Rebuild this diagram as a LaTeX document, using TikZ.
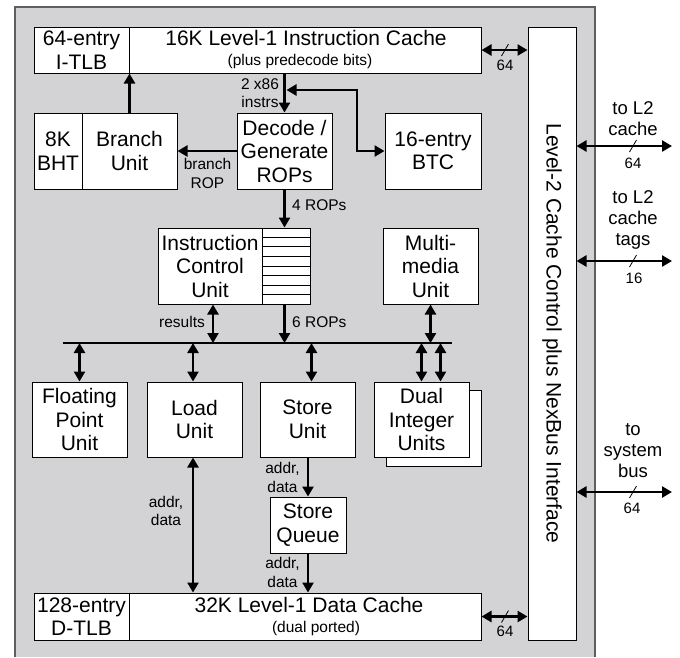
\documentclass[tikz,border=0pt]{standalone}
\usepackage{fontspec}
\setmainfont{Liberation Sans}
\usetikzlibrary{arrows.meta,calc}
\definecolor{bg}{RGB}{211,211,213}
\definecolor{edgegray}{RGB}{95,95,95}
\newcommand\mainsz{\fontsize{21}{23.5}\selectfont}
\newcommand\smsz{\fontsize{15.5}{18.5}\selectfont}
\newcommand\lblsz{\fontsize{18.5}{21}\selectfont}
\newcommand\numsz{\fontsize{15}{17}\selectfont}
\newcommand\busslash[1]{\draw[line width=0.8pt] ($(#1)+(-3.5,6)$) -- ($(#1)+(3.5,-6)$);}
\begin{document}
\begin{tikzpicture}[x=1pt,y=-1pt,
  box/.style={draw=black, line width=1pt, fill=white, inner sep=0pt, font=\mainsz, align=center},
  txt/.style={inner sep=0pt, font=\mainsz, align=center},
  lbl/.style={inner sep=0pt, font=\smsz, align=center},
  ext/.style={inner sep=0pt, font=\lblsz, align=center},
  num/.style={inner sep=0pt, font=\numsz},
  arr/.style={line width=2.6pt, -{Triangle[length=10pt,width=11pt]}},
  dbl/.style={line width=2.6pt, {Triangle[length=10pt,width=11pt]}-{Triangle[length=10pt,width=11pt]}},
  bus/.style={line width=2.6pt}
]
\useasboundingbox (0,0) rectangle (680,657);
% background chip area
\fill[bg] (15,7) rectangle (595,657);
\draw[edgegray, line width=1.6pt] (15,657) -- (15,7) -- (595,7) -- (595,657);

% top row
\node[box, minimum width=95pt, minimum height=46pt] (itlb) at (81.5,50) {64-entry\\I-TLB};
\node[box, minimum width=352pt, minimum height=46pt] (icache) at (305,50) {};
\node[txt, anchor=base] (ictitle) at (306,45) {16K Level-1 Instruction Cache};
\node[lbl, anchor=base] (icsub) at (300,65) {(plus predecode bits)};

% level-2 control
\node[box, minimum width=48pt, minimum height=613pt] (l2) at (552,333.5) {};
\node[txt, rotate=-90] (l2text) at (552,333.5) {Level-2 Cache Control plus NexBus Interface};

% second row
\node[box, minimum width=48pt, minimum height=76pt] (bht) at (58,151) {8K\\BHT};
\node[box, minimum width=95pt, minimum height=76pt] (branch) at (129.5,151) {Branch\\Unit};
\node[box, minimum width=95pt, minimum height=76pt] (decode) at (284.5,151) {Decode /\\Generate\\ROPs};
\node[box, minimum width=96pt, minimum height=76pt] (btc) at (433,151) {16-entry\\BTC};

% third row
\node[box, minimum width=104pt, minimum height=76pt] (icu) at (210,266) {Instruction\\Control\\Unit};
\node[box, minimum width=48pt, minimum height=76pt] (icuq) at (286,266) {};
\foreach \i in {1,...,7}
  \draw[line width=1pt] ($(icuq.north west)!\i/8!(icuq.south west)$) -- ($(icuq.north east)!\i/8!(icuq.south east)$);
\node[box, minimum width=95pt, minimum height=76pt] (mm) at (430.5,266) {Multi-\\media\\Unit};

% bus
\coordinate (busl) at (63,343);
\coordinate (busr) at (452,343);
\draw[bus] (busl) -- (busr);

% execution units
\node[box, minimum width=95pt, minimum height=75pt] (fp) at (79.5,419.5) {Floating\\Point\\Unit};
\node[box, minimum width=95pt, minimum height=75pt] (load) at (194.5,419.5) {Load\\Unit};
\node[box, minimum width=95pt, minimum height=75pt] (store) at (307.5,419.5) {Store\\Unit};
\node[box, minimum width=95pt, minimum height=76pt] (dualshadow) at (433.5,428) {};
\node[box, minimum width=95pt, minimum height=75pt] (dual) at (421.5,419.5) {Dual\\Integer\\Units};

% store queue
\node[box, minimum width=76pt, minimum height=56pt] (sq) at (308,525) {Store\\Queue};

% data cache row
\node[box, minimum width=95pt, minimum height=47pt] (dtlb) at (81.5,616.5) {128-entry\\D-TLB};
\node[box, minimum width=352pt, minimum height=47pt] (dcache) at (305,616.5) {};
\node[txt, anchor=base] (dctitle) at (309,612) {32K Level-1 Data Cache};
\node[lbl, anchor=base] (dcsub) at (316,632) {(dual ported)};

% connectors: front end
\draw[arr] (branch.north) -- (branch.north |- icache.south);
\draw[arr] (icache.south -| decode.north) -- (decode.north);
\node[lbl] (x86lbl) at (260,93) {2 x86\\instrs};
\coordinate (instrtap) at (286.5,90);
\coordinate (btcbend) at (357,90);
\draw[dbl] (instrtap) -- (btcbend) |- (btc.west);
\draw[arr] (decode.west) -- (branch.east);
\node[lbl] (brlbl) at (207.5,173.5) {branch\\ROP};
\draw[arr] (decode.south) -- (decode.south |- icuq.north);
\node[lbl, anchor=west] (rops4) at (292,205) {4 ROPs};

% ICU to bus
\draw[arr] (decode.south |- icuq.south) -- (decode.south |- busl);
\node[lbl, anchor=west] (rops6) at (292,322.5) {6 ROPs};
\draw[dbl] ([xshift=3pt]icu.south) -- ([xshift=3pt]icu.south |- busl);
\node[lbl] (reslbl) at (182,322) {results};
\draw[dbl] (mm.south) -- (mm.south |- busl);

% bus to units
\draw[dbl] (fp.north |- busl) -- (fp.north);
\draw[dbl] ([xshift=-1.5pt]load.north |- busl) -- ([xshift=-1.5pt]load.north);
\draw[dbl] ([xshift=4pt]store.north |- busl) -- ([xshift=4pt]store.north);
\draw[dbl] (dual.north |- busl) -- (dual.north);
\draw[dbl] ([xshift=19pt]dual.north |- busl) -- ([xshift=19pt]dual.north);

% memory paths
\draw[dbl] ([xshift=-1.5pt]load.south) -- ([xshift=-1.5pt]load.south |- dcache.north);
\node[lbl] (ldlbl) at (166,511) {addr,\\data};
\draw[arr] (store.south -| sq.north) -- (sq.north);
\node[lbl] (stlbl) at (282.5,477.5) {addr,\\data};
\draw[arr] (sq.south) -- (sq.south |- dcache.north);
\node[lbl] (sqlbl) at (282.5,572.5) {addr,\\data};

% caches to L2
\draw[dbl] (icache.east) -- (icache.east -| l2.west);
\coordinate (icslash) at (505,50);
\busslash{icslash}
\node[num] (icw) at (505,65) {64};
\draw[dbl] (dcache.east) -- (dcache.east -| l2.west);
\coordinate (dcslash) at (505,616.5);
\busslash{dcslash}
\node[num] (dcw) at (505,631) {64};

% external buses
\coordinate (extA) at (672,146);
\coordinate (extB) at (672,261);
\coordinate (extC) at (672,492);
\draw[dbl] (l2.east |- extA) -- (extA);
\draw[dbl] (l2.east |- extB) -- (extB);
\draw[dbl] (l2.east |- extC) -- (extC);
\coordinate (slA) at (633,146);
\coordinate (slB) at (633,261);
\coordinate (slC) at (633,492);
\busslash{slA}
\busslash{slB}
\busslash{slC}
\node[ext] (tA) at (633,119) {to L2\\cache};
\node[num] (wA) at (633,163) {64};
\node[ext] (tB) at (633,220) {to L2\\cache\\tags};
\node[num] (wB) at (634,278) {16};
\node[ext] (tC) at (633,451) {to\\system\\bus};
\node[num] (wC) at (632,508.5) {64};
\end{tikzpicture}
\end{document}
